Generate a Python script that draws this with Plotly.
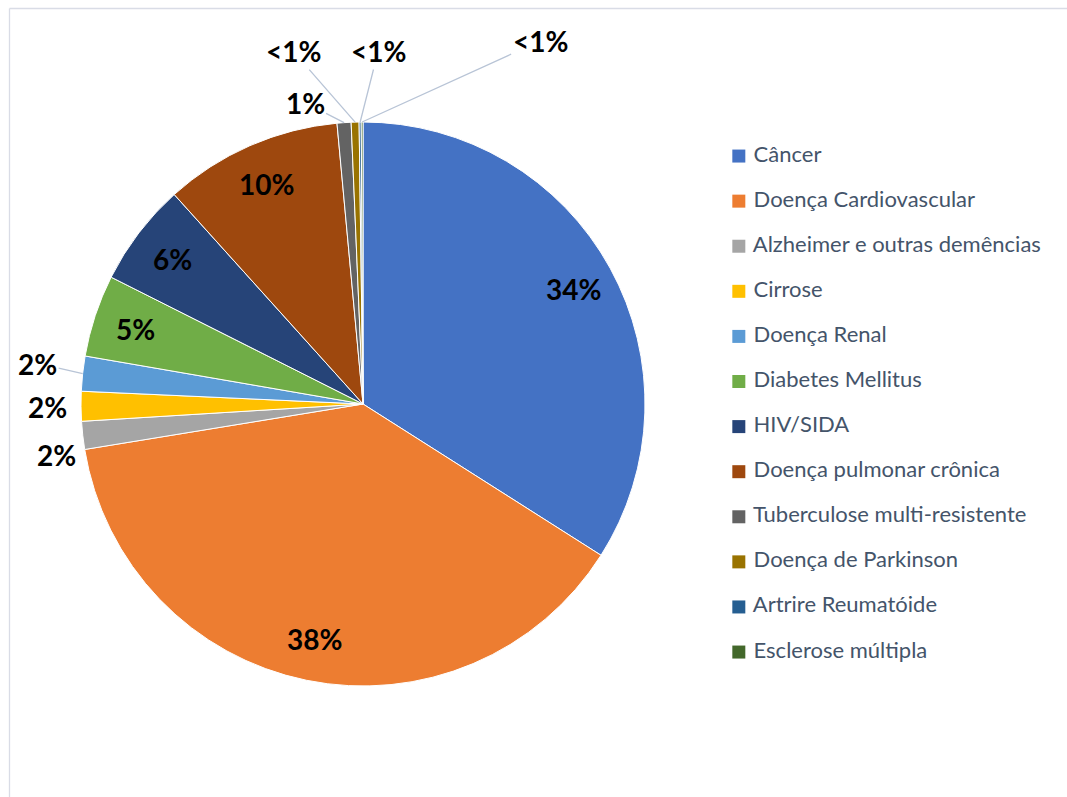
import math
import plotly.graph_objects as go

# ---------------- data ----------------
categories = [
    "Câncer",
    "Doença Cardiovascular",
    "Alzheimer e outras demências",
    "Cirrose",
    "Doença Renal",
    "Diabetes Mellitus",
    "HIV/SIDA",
    "Doença pulmonar crônica",
    "Tuberculose multi-resistente",
    "Doença de Parkinson",
    "Artrire Reumatóide",
    "Esclerose múltipla",
]
values = [34.0, 38.4, 1.6, 1.7, 2.0, 4.7, 5.9, 10.2, 0.8, 0.45, 0.12, 0.1]
colors = ["#4472C4", "#ED7D31", "#A5A5A5", "#FFC000", "#5B9BD5", "#70AD47",
          "#264478", "#9E480E", "#636363", "#997300", "#255E91", "#43682B"]

# ---------------- geometry / style ----------------
W, H = 1067, 797
CX, CY, R = 363, 404, 282
LABEL_FONT = dict(family="Lato", size=28, color="#000000")
LEGEND_FONT = dict(family="Lato", size=22, color="#44546A")
LEADER = "#B8C4D6"

total = sum(values)
pct = [v / total * 100 for v in values]
label_txt = [f"{round(p)}%" if round(p) >= 1 else "<1%" for p in pct]

# labels placed outside (index -> pixel offset from slice edge, draw leader?)
outside = {
    2: (-26, 20, False),
    3: (-34, 1, False),
    4: (-45, -10, True),
    8: (-39, -20, True),
    9: (-62, -71, True),
    10: (18, -71, True),
    11: (178, -81, True),
}

fig = go.Figure()

fig.add_trace(go.Pie(
    labels=categories,
    values=values,
    sort=False,
    direction="clockwise",
    rotation=0,
    marker=dict(colors=colors, line=dict(color="#FFFFFF", width=1)),
    textinfo="none",
    showlegend=False,
    domain=dict(x=[(CX - R) / W, (CX + R) / W],
                y=[(H - CY - R) / H, (H - CY + R) / H]),
))

def to_paper(px, py):
    return px / W, 1 - py / H

annotations = []
cum = 0.0
for i, v in enumerate(values):
    mid = (cum + v / 2) / total * 2 * math.pi
    cum += v
    s, c = math.sin(mid), math.cos(mid)
    if i in outside:
        ax, ay, line = outside[i]
        x, y = to_paper(CX + R * s, CY - R * c)
        annotations.append(dict(
            x=x, y=y, xref="paper", yref="paper", text=f"<b>{label_txt[i]}</b>",
            showarrow=True, ax=ax, ay=ay, arrowhead=0, arrowwidth=1.3,
            arrowcolor=LEADER if line else "rgba(0,0,0,0)", standoff=0,
            font=LABEL_FONT,
        ))
    else:
        r = 0.85 * R
        x, y = to_paper(CX + r * s, CY - r * c)
        annotations.append(dict(
            x=x, y=y, xref="paper", yref="paper", text=f"<b>{label_txt[i]}</b>",
            showarrow=False, xanchor="center", yanchor="middle", font=LABEL_FONT,
        ))

# legend drawn as a marker column on a hidden category axis
fig.add_trace(go.Scatter(
    x=[0] * len(categories),
    y=categories,
    mode="markers+text",
    marker=dict(symbol="square", size=13, color=colors, line=dict(width=0)),
    text=["\u00a0" + c for c in categories],
    textposition="middle right",
    textfont=LEGEND_FONT,
    hoverinfo="skip",
    showlegend=False,
    cliponaxis=False,
))

leg_top, leg_bottom = 133.5, 674.6
fig.update_layout(
    width=W, height=H,
    margin=dict(l=0, r=0, t=0, b=0),
    paper_bgcolor="#FFFFFF",
    plot_bgcolor="rgba(0,0,0,0)",
    showlegend=False,
    annotations=annotations,
    xaxis=dict(domain=[706.0 / W, 1.0], range=[-1, 10], visible=False, fixedrange=True),
    yaxis=dict(domain=[1 - leg_bottom / H, 1 - leg_top / H], type="category",
               categoryorder="array", categoryarray=categories,
               range=[len(categories) - 0.5, -0.5], visible=False, fixedrange=True),
    shapes=[
        dict(type="line", xref="paper", yref="paper", x0=9.5 / W, x1=1.2, y0=1 - 8.5 / H, y1=1 - 8.5 / H,
             line=dict(color="#D9DCE6", width=1.3)),
        dict(type="line", xref="paper", yref="paper", x0=9.5 / W, x1=9.5 / W, y0=1 - 8.5 / H, y1=-0.2,
             line=dict(color="#D9DCE6", width=1.3)),
    ],
)

fig.write_html("out.html")
